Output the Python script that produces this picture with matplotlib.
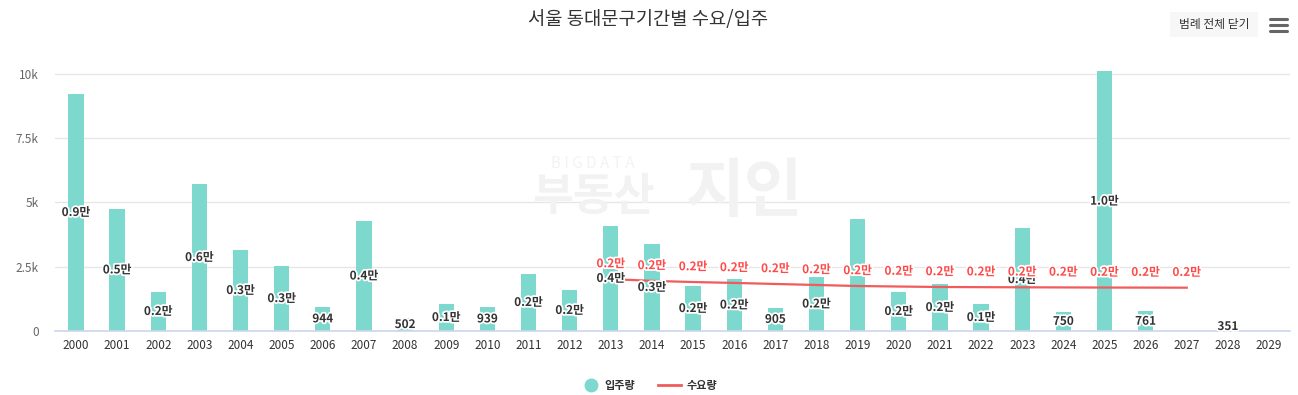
import numpy as np
import matplotlib
matplotlib.use("Agg")
import matplotlib.pyplot as plt
import matplotlib.patheffects as pe
from matplotlib.lines import Line2D
from matplotlib.patches import Rectangle

plt.rcParams['font.family'] = ['Noto Sans CJK KR', 'DejaVu Sans']

years = [str(y) for y in range(2000, 2030)]
supply = [9220, 4750, 1520, 5720, 3150, 2520, 944, 4280, 502, 1050,
          939, 2220, 1600, 4090, 3390, 1750, 2020, 905, 2100, 4360,
          1520, 1830, 1050, 4000, 750, 10100, 761, np.nan, 351, np.nan]
demand = [np.nan] * 13 + [2020, 1950, 1905, 1870, 1830, 1790, 1750,
                          1730, 1712, 1705, 1700, 1695, 1690, 1688, 1685] + [np.nan] * 2
hidden_supply_labels = ["2019"]

title = "서울 동대문구기간별 수요/입주"
y_ticks = [0, 2500, 5000, 7500, 10000]
y_tick_labels = ["0", "2.5k", "5k", "7.5k", "10k"]

BAR = "#7dd8cd"
RED = "#f15b5b"
RED_TXT = "#ff4a4a"

W, H = 1298, 395
fig = plt.figure(figsize=(W / 100, H / 100), dpi=100)
ax = fig.add_axes([55.4 / W, (H - 331) / H, (1289.6 - 55.4) / W, (331 - 68) / H])

x = np.arange(len(years))
ax.bar(x, supply, width=0.37, color=BAR, zorder=2)
ax.plot(x, demand, color=RED, lw=1.6, zorder=3)

ax.set_xlim(-0.5, len(years) - 0.5)
ax.set_ylim(0, 10230)
ax.set_yticks(y_ticks)
ax.set_yticklabels(y_tick_labels)
ax.set_xticks(x)
ax.set_xticklabels(years)
ax.tick_params(axis='y', length=0, pad=12, labelsize=8.5, labelcolor="#666666")
ax.tick_params(axis='x', length=0, pad=6, labelsize=8.5, labelcolor="#333333")
for s in ["top", "right", "left"]:
    ax.spines[s].set_visible(False)
ax.spines["bottom"].set_color("#ccd6eb")
ax.spines["bottom"].set_linewidth(1.2)
ax.grid(axis='y', color="#e6e6e6", lw=1, zorder=0)
ax.set_axisbelow(True)

def fmt(v):
    if v >= 1000:
        return f"{v / 10000:.1f}만"
    return f"{int(v)}"

stroke = [pe.withStroke(linewidth=2.5, foreground="white")]
for xi, yr, v in zip(x, years, supply):
    if np.isnan(v) or yr in hidden_supply_labels:
        continue
    ax.text(xi, v / 2, fmt(v), ha='center', va='center', fontsize=8.5,
            fontweight='bold', color="#333333", path_effects=stroke, zorder=5)

for xi, v in zip(x, demand):
    if np.isnan(v):
        continue
    ax.annotate(fmt(v), (xi, v), xytext=(0, 11), textcoords='offset points',
                ha='center', va='center', fontsize=8.5, fontweight='bold',
                color=RED_TXT, path_effects=stroke, zorder=6)

# watermark
fig.text(593 / W, 1 - 163 / H, "B I G D A T A", ha='center', va='center',
         fontsize=11, color="#f3f3f3", zorder=0)
fig.text(593 / W, 1 - 197 / H, "부동산", ha='center', va='center',
         fontsize=32, fontweight='bold', color="#f2f2f2", zorder=0)
fig.text(745 / W, 1 - 192 / H, "지인", ha='center', va='center',
         fontsize=46, fontweight='bold', color="#f2f2f2", zorder=0)

# title
fig.text(648 / W, 1 - 19 / H, title, ha='center', va='center',
         fontsize=13.5, color="#333333")

# button and menu icon
fig.patches.append(Rectangle((1170 / W, 1 - 37 / H), 88 / W, 25 / H,
                             transform=fig.transFigure, facecolor="#f7f7f7",
                             edgecolor="none"))
fig.text(1214 / W, 1 - 24.5 / H, "범례 전체 닫기", ha='center', va='center',
         fontsize=8.5, color="#333333")
for yy in [19, 25, 31]:
    fig.lines.append(Line2D([1270 / W, 1287 / W], [1 - yy / H, 1 - yy / H],
                            transform=fig.transFigure, color="#666666",
                            lw=2.2, solid_capstyle='round'))

# legend
fig.lines.append(Line2D([591 / W], [1 - 385 / H], transform=fig.transFigure,
                        marker='o', markersize=9, color=BAR, lw=0))
fig.text(604 / W, 1 - 385 / H, "입주량", ha='left', va='center',
         fontsize=8, fontweight='bold', color="#333333")
fig.lines.append(Line2D([658 / W, 681 / W], [1 - 385 / H, 1 - 385 / H],
                        transform=fig.transFigure, color=RED, lw=2))
fig.text(687 / W, 1 - 385 / H, "수요량", ha='left', va='center',
         fontsize=8, fontweight='bold', color="#333333")

fig.savefig("out.png", dpi=100, facecolor="white")
